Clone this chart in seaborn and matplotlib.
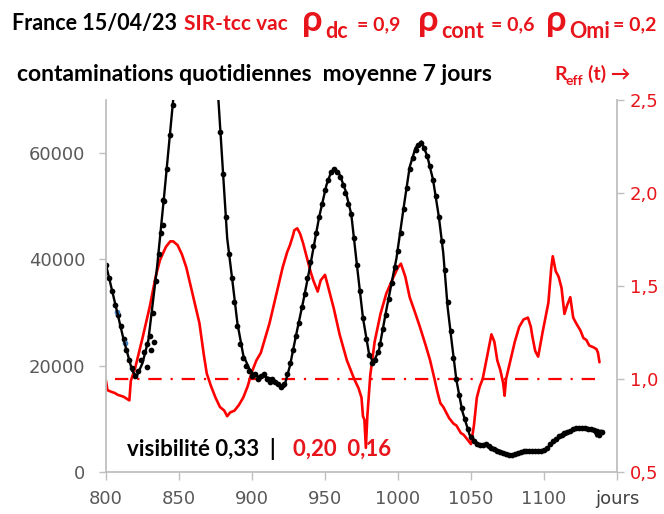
import matplotlib
matplotlib.use("Agg")
import matplotlib.pyplot as plt
import seaborn as sns

# --- donnees ---
# contaminations quotidiennes (points = observations, tous les 2 jours)
dot_days = list(range(800, 1141, 2))
dot_cases = [39000, 36500, 34000, 31500, 29500, 27500, 25000, 23000, 21000, 19500,
             18000, 19000, 21000, 22500, 24000, 25500, 30000, 36000, 41000, 45000,
             51000, 57000, 63500, 69000, 76000, 83000, 90000, 100000, 110000, 120000,
             125000, 128000, 126000, 120000, 110000, 98000, 88000, 80000, 72000, 64000,
             56000, 48000, 41000, 36500, 32000, 27500, 24000, 21500, 20000, 19000,
             18000, 18500, 17500, 18000, 18500, 17500, 17000, 17500, 17000, 16500,
             16000, 16500, 18500, 20500, 23000, 25500, 28000, 31000, 33500, 36500,
             39500, 42500, 45000, 48000, 50500, 53000, 55000, 56500, 57000, 56500,
             55500, 54000, 52500, 50500, 48500, 44000, 39000, 34000, 29000, 25000,
             22000, 20500, 21000, 22500, 24000, 27000, 29500, 32500, 35500, 38500,
             41500, 45000, 49500, 53500, 57000, 59000, 60500, 61500, 62000, 61000,
             59500, 57500, 55000, 52000, 48000, 43500, 38000, 32000, 26500, 21500,
             17500, 14500, 12000, 10000, 8000, 6500, 5800, 5300, 5000, 5000,
             5200, 4800, 4500, 4300, 4000, 3700, 3500, 3300, 3200, 3200,
             3300, 3500, 3700, 3900, 4000, 4000, 3900, 3900, 4000, 4000,
             4200, 4600, 5200, 5800, 6300, 6700, 7000, 7300, 7600, 7800,
             8000, 8200, 8300, 8300, 8200, 8100, 8000, 7900, 7800, 7000,
             7500]
# quelques points hors de la courbe
extra_days = [828, 831, 833, 839, 839]
extra_cases = [19800, 23000, 24500, 51200, 46500]

# modele SIR (ligne noire)
line_days = [800, 806, 812, 818, 821, 825, 829, 835, 840, 846, 852, 858, 862, 866,
             872, 877, 883, 887, 890, 894, 898, 902, 908, 914, 919, 922, 926, 930,
             935, 940, 946, 951, 954, 957, 960, 964, 968, 972, 976, 980, 983, 987,
             992, 999, 1004, 1008, 1012, 1016, 1020, 1024, 1028, 1031, 1034, 1037,
             1040, 1044, 1049, 1055, 1062, 1068, 1074, 1079, 1085, 1090, 1095, 1100,
             1105, 1110, 1115, 1120, 1125, 1130, 1134, 1136, 1137, 1139]
line_cases = [39000, 32000, 25000, 19000, 18000, 20500, 24800, 38600, 52500, 70000,
              90000, 118000, 128000, 122000, 96000, 70000, 44000, 35000, 28000, 22000,
              19500, 18000, 18000, 17500, 16500, 16000, 20000, 25500, 32000, 39000,
              48000, 54000, 56300, 57000, 56000, 53000, 48500, 38600, 29000, 22500,
              20500, 23000, 30500, 40300, 50000, 57400, 61000, 62200, 59500, 55000,
              48000, 41200, 31000, 24000, 17300, 11500, 7000, 5200, 4800, 4200,
              3500, 3200, 3500, 3900, 3900, 4000, 5200, 6300, 7000, 7800,
              8300, 8300, 8100, 6700, 7300, 7800]

# deux points bleus
blue_days = [807.5, 813]
blue_cases = [30100, 24300]

# R effectif (axe de droite)
reff_days = [800, 801, 804, 806, 808, 810, 812, 814, 816, 817, 820, 825, 830, 834,
             837, 841, 844, 846, 849, 852, 855, 858, 861, 864, 867, 869, 872, 875,
             878, 881, 883, 885, 888, 891, 894, 897, 900, 903, 906, 909, 912, 915,
             918, 921, 924, 926, 928, 929, 931, 933, 935, 937, 940, 942, 945, 947,
             950, 952, 956, 960, 965, 970, 973, 975, 976, 977, 978, 979, 981, 984,
             988, 992, 997, 1000, 1002, 1005, 1008, 1012, 1015, 1019, 1022, 1025,
             1027, 1029, 1031, 1033, 1035, 1038, 1040, 1043, 1045, 1047, 1049, 1050,
             1052, 1054, 1056, 1058, 1061, 1064, 1066, 1068, 1070, 1072, 1073, 1074,
             1077, 1080, 1083, 1086, 1089, 1091, 1092, 1094, 1096, 1099, 1101, 1103,
             1105, 1106, 1108, 1110, 1112, 1114, 1116, 1118, 1120, 1122, 1125, 1127,
             1129, 1131, 1134, 1136, 1137, 1138]
reff_vals = [0.99, 0.94, 0.93, 0.925, 0.915, 0.91, 0.905, 0.895, 0.885, 0.99, 1.06,
             1.22, 1.39, 1.55, 1.64, 1.71, 1.74, 1.74, 1.72, 1.67, 1.60, 1.50, 1.40,
             1.30, 1.13, 1.03, 0.96, 0.90, 0.85, 0.83, 0.80, 0.82, 0.83, 0.86, 0.90,
             0.96, 1.04, 1.10, 1.14, 1.22, 1.30, 1.40, 1.50, 1.60, 1.68, 1.72, 1.77,
             1.80, 1.81, 1.78, 1.73, 1.67, 1.58, 1.53, 1.47, 1.53, 1.56, 1.50, 1.38,
             1.24, 1.10, 1.00, 0.95, 0.90, 0.80, 0.78, 0.63, 0.80, 1.02, 1.20, 1.35,
             1.46, 1.55, 1.60, 1.62, 1.55, 1.44, 1.35, 1.28, 1.18, 1.10, 1.00, 0.93,
             0.87, 0.85, 0.82, 0.79, 0.76, 0.75, 0.71, 0.70, 0.68, 0.66, 0.65, 0.75,
             0.90, 0.96, 1.00, 1.12, 1.24, 1.20, 1.10, 1.05, 0.98, 0.91, 1.00, 1.10,
             1.20, 1.28, 1.32, 1.33, 1.28, 1.23, 1.15, 1.12, 1.25, 1.33, 1.41, 1.60,
             1.66, 1.58, 1.55, 1.49, 1.35, 1.40, 1.44, 1.33, 1.30, 1.26, 1.22, 1.21,
             1.18, 1.17, 1.16, 1.14, 1.09]

ref_level, ref_start, ref_end = 1.0, 806, 1140

x_ticks = [800, 850, 900, 950, 1000, 1050, 1100, 1150]
x_labels = ['800', '850', '900', '950', '1000', '1050', '1100', 'jours']
y_ticks = [0, 20000, 40000, 60000]
r_ticks = [0.5, 1.0, 1.5, 2.0, 2.5]
r_labels = ['0,5', '1,0', '1,5', '2,0', '2,5']

RED = '#FF0000'
TXT_RED = '#E8141B'
GREY = '#595959'

sns.set_style('white')
plt.rcParams['font.family'] = ['DejaVu Sans']

W, H = 664, 514
fig = plt.figure(figsize=(W / 100, H / 100), dpi=100)
ax = fig.add_axes([106 / W, 42 / H, 511 / W, 372 / H])
ax2 = ax.twinx()

# courbe R_eff (rouge, derriere)
sns.lineplot(x=reff_days, y=reff_vals, ax=ax2, color=RED, lw=1.9)
ax2.hlines(ref_level, ref_start, ref_end, colors=RED, lw=1.6,
           linestyles=[(0, (6, 4, 1, 4))])

# contaminations (noir, devant)
sns.lineplot(x=line_days, y=line_cases, ax=ax, color='black', lw=1.7)
sns.scatterplot(x=dot_days, y=dot_cases, ax=ax, color='black', s=17, linewidth=0)
sns.scatterplot(x=extra_days, y=extra_cases, ax=ax, color='black', s=17, linewidth=0)
sns.scatterplot(x=blue_days, y=blue_cases, ax=ax, color='#3A7FC1', s=17, linewidth=0)
ax.set_zorder(ax2.get_zorder() + 1)
ax.patch.set_visible(False)

ax.set_xlim(800, 1150)
ax.set_ylim(0, 70000)
ax2.set_ylim(0.5, 2.5)
ax.set_xticks(x_ticks)
ax.set_xticklabels(x_labels)
ax.set_yticks(y_ticks)
ax.set_yticklabels([str(v) for v in y_ticks])
ax2.set_yticks(r_ticks)
ax2.set_yticklabels(r_labels)
ax.set_xlabel('')
ax.set_ylabel('')
ax2.set_ylabel('')

for a in (ax, ax2):
    for side in ('left', 'right', 'bottom'):
        a.spines[side].set_color('#BFBFBF')
        a.spines[side].set_linewidth(1.3)
    a.spines['top'].set_visible(False)
ax.spines['right'].set_visible(False)
ax2.spines['left'].set_visible(False)
ax2.spines['bottom'].set_visible(False)

ax.tick_params(axis='y', left=True, length=5, width=1, color='#BFBFBF',
               labelsize=13, labelcolor=GREY, pad=10)
ax.tick_params(axis='x', bottom=True, length=6, width=1, color='#BFBFBF',
               labelsize=13, labelcolor=GREY, pad=7)
ax.get_xticklabels()[-1].set_color('#404040')
ax2.tick_params(axis='y', right=True, length=5, width=1, color='#BFBFBF',
                labelsize=13, labelcolor=TXT_RED, pad=4)


def ftext(x, y, s, size, color, **kw):
    # x, y en pixels depuis le coin haut-gauche, y = ligne de base
    fig.text(x / W, 1 - y / H, s, fontsize=size, color=color, fontweight='bold',
             va='baseline', ha='left', family=['Lato', 'DejaVu Sans'], **kw)


# titre ligne 1
ftext(12, 30, 'France 15/04/23', 15.5, 'black')
ftext(184, 30, 'SIR-tcc vac', 15, TXT_RED)
for x_rho, x_sub, x_val, sub, val in [(302, 325, 357, 'dc', '= 0,9'),
                                       (418, 441, 491, 'cont', '= 0,6'),
                                       (546, 569, 613, 'Omi', '= 0,2')]:
    ftext(x_rho, 31, 'ρ', 26, TXT_RED)
    ftext(x_sub, 38, sub, 15.5, TXT_RED)
    ftext(x_val, 30, val, 14, TXT_RED)

# titre ligne 2
ftext(17, 81, 'contaminations quotidiennes  moyenne 7 jours', 16.5, 'black')
ftext(554, 80, 'R', 14, TXT_RED)
ftext(566, 85, 'eff', 10, TXT_RED)
ftext(588, 80, '(t) →', 14, TXT_RED)

# annotation
ftext(127, 456, 'visibilité 0,33  |', 16, 'black')
ftext(293, 456, '0,20  0,16', 16, TXT_RED)

fig.savefig('out.png', dpi=100)
